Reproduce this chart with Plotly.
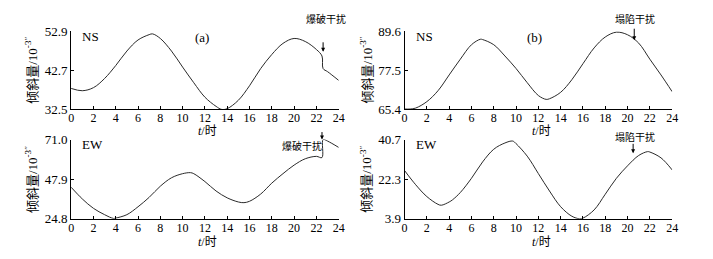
import plotly.graph_objects as go

# ---------------- data ----------------
t_a_ns = [0, 1, 2, 3, 4, 5, 6, 7, 7.3, 8, 9, 10, 11, 12, 13, 13.5, 14, 15, 16, 17, 18, 19, 20, 21, 22, 22.5, 22.6, 23, 24]
v_a_ns = [37.9, 37.3, 38.1, 40.5, 43.9, 47.7, 50.6, 52.0, 52.2, 51.0, 47.7, 43.5, 39.4, 35.6, 33.2, 32.4, 32.6, 34.8, 38.6, 43.1, 46.8, 49.7, 51.0, 50.2, 48.1, 46.4, 43.1, 42.3, 40.0]

t_b_ns = [0, 0.5, 1, 2, 3, 4, 5, 6, 6.8, 7, 8, 9, 10, 11, 12, 12.7, 13, 14, 15, 16, 17, 18, 19, 20, 21, 22, 23, 24]
v_b_ns = [65.4, 65.4, 65.7, 67.7, 71.1, 76.0, 80.9, 85.4, 87.1, 87.0, 85.4, 81.9, 78.0, 73.6, 69.6, 68.4, 68.6, 70.6, 74.5, 79.5, 84.4, 87.8, 89.3, 88.5, 85.9, 80.9, 76.0, 70.8]

t_a_ew = [0, 1, 2, 3, 3.8, 4, 5, 6, 7, 8, 9, 10, 10.7, 11, 12, 13, 14, 15, 15.5, 16, 17, 18, 19, 20, 21, 22, 22.5, 22.6, 23, 24]
v_a_ew = [43.2, 36.4, 30.9, 27.2, 25.0, 25.2, 27.2, 31.8, 37.3, 43.8, 48.7, 51.1, 51.7, 51.1, 46.5, 41.0, 37.0, 34.6, 34.2, 35.0, 39.2, 45.6, 51.1, 56.1, 59.8, 61.2, 60.5, 71.0, 70.1, 66.4]

t_b_ew = [0, 1, 2, 3, 3.3, 4, 4.3, 5, 6, 7, 8, 9, 9.7, 10, 11, 12, 13, 14, 15, 15.7, 16, 17, 18, 19, 20, 21, 21.8, 22, 23, 24]
v_b_ew = [26.3, 19.7, 14.2, 10.6, 10.2, 11.7, 12.7, 16.1, 22.7, 30.3, 36.2, 39.1, 40.0, 38.8, 33.0, 24.9, 16.8, 9.5, 5.1, 3.9, 4.2, 8.0, 15.3, 22.7, 28.5, 33.3, 35.1, 34.9, 32.2, 26.6]

x_ticks = list(range(0, 25, 2))
y_ticks_a_ns = [32.5, 42.7, 52.9]
y_ticks_b_ns = [65.4, 77.5, 89.6]
y_ticks_a_ew = [24.8, 47.9, 71.0]
y_ticks_b_ew = [3.9, 22.3, 40.7]

blast_time = 22.6
collapse_time = 20.5

# ---------------- figure ----------------
W, H = 713, 259
def px(x): return x / W
def py(y): return 1 - y / H

SERIF = "Liberation Serif, Times New Roman, Noto Sans CJK SC, serif"
LINE = dict(color="#2a2a2a", width=1)

fig = go.Figure()
panels = [
    ("x", "y", t_a_ns, v_a_ns, y_ticks_a_ns, (69, 340), (25.7, 108.3)),
    ("x2", "y2", t_b_ns, v_b_ns, y_ticks_b_ns, (406.7, 677.7), (25.7, 108.3)),
    ("x3", "y3", t_a_ew, v_a_ew, y_ticks_a_ew, (69, 340), (140.7, 224.8)),
    ("x4", "y4", t_b_ew, v_b_ew, y_ticks_b_ew, (406.7, 677.7), (140.7, 224.8)),
]

layout = {}
for i, (xa, ya, t, v, yt, (x0, x1), (y0, y1)) in enumerate(panels):
    fig.add_trace(go.Scatter(x=t, y=v, mode="lines", line=LINE, line_shape="spline",
                             xaxis=xa, yaxis=ya, showlegend=False, hoverinfo="skip"))
    xk = "xaxis" if i == 0 else f"xaxis{i+1}"
    yk = "yaxis" if i == 0 else f"yaxis{i+1}"
    layout[xk] = dict(domain=[px(x0), px(x1)], range=[0, 24], anchor=ya,
                      tickvals=x_ticks, ticks="inside", ticklen=3, tickcolor="black",
                      ticklabelstandoff=-2,
                      showline=True, linecolor="black", linewidth=1, showgrid=False,
                      zeroline=False, tickfont=dict(family=SERIF, size=12, color="black"))
    layout[yk] = dict(domain=[py(y1), py(y0)], range=[yt[0], yt[-1]], anchor=xa,
                      tickvals=yt, ticktext=[f"{val:.1f}" for val in yt],
                      ticks="inside", ticklen=3, tickcolor="black",
                      showline=True, linecolor="black", linewidth=1, showgrid=False,
                      zeroline=False, tickfont=dict(family=SERIF, size=13, color="black"))

fig.update_layout(width=W, height=H, margin=dict(l=0, r=0, t=0, b=0),
                  plot_bgcolor="white", paper_bgcolor="white", **layout)

ann = []
def text(x, y, s, size=13, angle=0, xanchor="center"):
    ann.append(dict(x=px(x), y=py(y), xref="paper", yref="paper", text=s, showarrow=False,
                    font=dict(family=SERIF, size=size, color="black"), textangle=angle,
                    xanchor=xanchor, yanchor="middle"))

# panel labels
text(78, 31, "NS", xanchor="left")
text(416, 31, "NS", xanchor="left")
text(78, 146, "EW", xanchor="left")
text(416, 146, "EW", xanchor="left")
text(202, 32, "(a)")
text(538, 32, "(b)")

# axis titles
ytitle = "倾斜量/10<sup>-3″</sup>"
text(29, 67, ytitle, size=13, angle=-90)
text(368, 67, ytitle, size=13, angle=-90)
text(29, 183, ytitle, size=13, angle=-90)
text(368, 183, ytitle, size=13, angle=-90)
xtitle = "<i>t</i>/时"
text(207, 132, xtitle, size=12)
text(545, 132, xtitle, size=12)
text(207, 249, xtitle, size=12)
text(545, 249, xtitle, size=12)

# disturbance labels
text(327, 13, "爆破干扰", size=10)
text(640, 13, "塌陷干扰", size=10)
text(303, 148, "爆破干扰", size=10)
text(640, 138, "塌陷干扰", size=10)

def arrow(xa, ya, xv, yv, ay):
    ann.append(dict(x=xv, y=yv, xref=xa, yref=ya, ax=0, ay=ay, text="", showarrow=True,
                    arrowhead=2, arrowsize=0.8, arrowwidth=1, arrowcolor="black"))

arrow("x", "y", blast_time, 47.5, -11)
arrow("x2", "y2", collapse_time + 0.1, 86.8, -13)
arrow("x3", "y3", blast_time - 0.1, 71.0, -9)
arrow("x4", "y4", collapse_time, 34.3, -11)

fig.update_layout(annotations=ann)
fig.write_html("out.html", config={"displayModeBar": False},
               post_script="document.body.style.margin='0';document.body.style.overflow='hidden';")
